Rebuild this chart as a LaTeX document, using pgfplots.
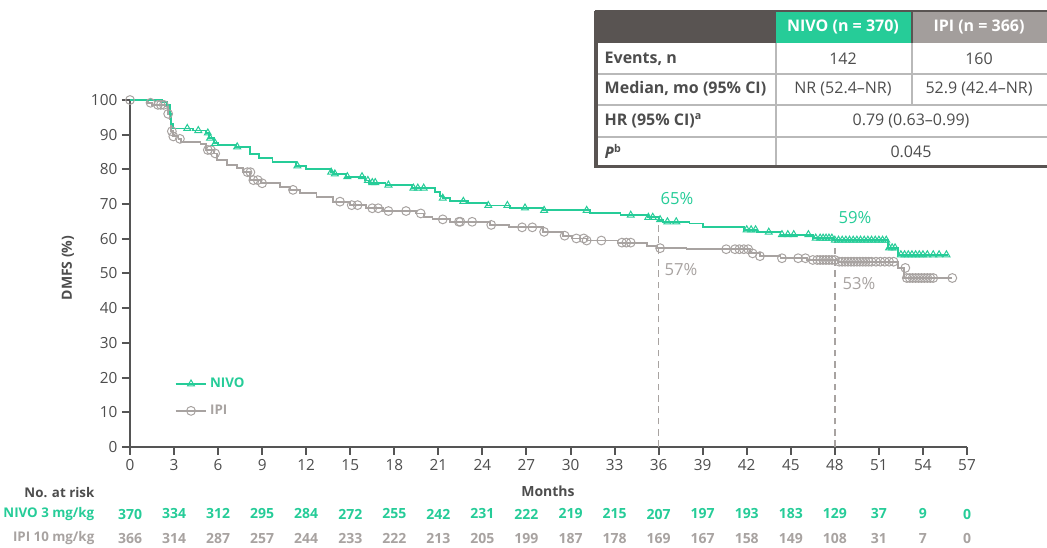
\documentclass[border=0pt]{standalone}
\usepackage{pgfplots}
\pgfplotsset{compat=1.18}
\usepackage{fontspec}
\setmainfont{Open Sans}
\definecolor{nivo}{RGB}{38,204,152}
\definecolor{ipi}{RGB}{168,163,161}
\definecolor{axc}{RGB}{85,85,85}
\definecolor{hdr}{RGB}{89,84,82}
\definecolor{ipihdr}{RGB}{163,158,156}
\definecolor{txt}{RGB}{77,77,77}
\definecolor{grid}{RGB}{185,185,185}
\begin{document}
\begin{tikzpicture}
\useasboundingbox (0,0) rectangle (785.25pt,-411pt);
\begin{axis}[
  at={(97.5pt,-335.25pt)}, anchor=south west,
  scale only axis, width=627.75pt, height=260.25pt,
  xmin=0, xmax=57, ymin=0, ymax=100,
  axis lines=left, axis line style={-, axc, line width=1.5pt},
  xtick={0,3,...,57}, ytick={0,10,...,100},
  tick align=outside, major tick length=6pt,
  tick style={axc, line width=1.5pt},
  tick label style={font=\fontsize{11.5}{13}\selectfont, text=txt},
  /pgf/number format/assume math mode=true,
  clip=false,
  legend style={at={(0.053,0.207)}, anchor=north west, draw=none, fill=none,
    font=\bfseries\fontsize{10}{12}\selectfont, row sep=7.5pt, inner sep=0pt},
  legend cell align=left,
  legend image code/.code={\draw[mark repeat=2,mark phase=2,#1] plot coordinates {(0pt,0pt) (11.6pt,0pt) (23.2pt,0pt)};},
]
% dashed reference lines
\addplot[ipi, line width=1.2pt, dash pattern=on 5pt off 3.5pt, forget plot] coordinates {(36,0) (36,65.2)};
\addplot[ipi, line width=1.2pt, dash pattern=on 5pt off 3.5pt, forget plot] coordinates {(48,0) (48,60.0)};
% IPI curve
\addplot[const plot, ipi, line width=1.4pt, forget plot] coordinates {
(0,100)(1.2,99.2)(1.5,98.6)(2.4,98.2)(2.6,96)(2.7,94.5)(2.8,91)(2.95,89.5)(3.3,88.8)(3.5,88)(4.8,87.4)(5.2,85.6)(5.7,84.6)(5.9,82.8)(6.6,81.3)(7.3,80.3)(7.7,79.2)(8.2,76.9)(8.9,76.0)(10.2,75.0)(10.9,74.1)(11.6,73.1)(12.7,72.1)(13.8,70.7)(15.0,69.7)(16.1,68.8)(17.2,68.0)(19.5,67.3)(20.0,66.4)(20.6,65.6)(21.8,64.9)(24.5,64.0)(25.8,63.3)(28.1,62.0)(29.5,60.9)(30.1,60.1)(31.1,59.5)(33.2,58.9)(35.2,57.9)(35.9,57.3)(37.9,57.0)(42.2,55.8)(42.9,55.0)(44.3,54.4)(46.1,53.9)(48.2,53.4)(52.3,51.6)(52.7,48.7)(56.0,48.7)};
\addplot[only marks, mark=o, mark size=3.3pt, ipi, mark options={line width=0.75pt}, forget plot] coordinates {
(0,100)(1.4,99.2)(1.9,98.6)(2.1,98.6)(2.3,98.6)(2.6,96)(2.85,91)(2.95,89.5)(3.4,88.8)(5.3,85.6)(5.5,85.6)(5.8,84.6)(8.0,79.2)(8.2,79.2)(8.4,76.9)(8.7,76.9)(9.0,76.0)(11.1,74.1)(14.3,70.7)(15.1,69.7)(15.5,69.7)(16.5,68.8)(16.9,68.8)(17.6,68.0)(18.8,68.0)(19.8,67.3)(21.3,65.6)(22.4,64.9)(22.5,64.9)(23.3,64.9)(24.6,64.0)(26.7,63.3)(27.4,63.3)(28.2,62.0)(29.6,60.9)(30.4,60.1)(30.9,60.1)(31.1,59.5)(32.1,59.5)(33.5,58.9)(33.8,58.9)(34.1,58.9)(36.1,57.3)(40.6,57.0)(41.2,57.0)(41.5,57.0)(41.8,57.0)(42.1,57.0)(42.4,55.8)(42.9,55.0)(44.4,54.4)(45.5,54.4)(46.0,54.4)
(46.5,53.9)(46.8,53.9)(47.0,53.9)(47.2,53.9)(47.4,53.9)(47.6,53.9)(47.8,53.9)(48.0,53.9)(48.3,53.4)(48.5,53.4)(48.7,53.4)(48.9,53.4)(49.1,53.4)(49.3,53.4)(49.5,53.4)(49.7,53.4)(49.9,53.4)(50.1,53.4)(50.3,53.4)(50.5,53.4)(50.8,53.4)(51.1,53.4)(51.4,53.4)(51.7,53.4)(52.0,53.4)(52.8,51.6)
(52.9,48.7)(53.1,48.7)(53.3,48.7)(53.5,48.7)(53.7,48.7)(53.9,48.7)(54.1,48.7)(54.3,48.7)(54.5,48.7)(54.7,48.7)(56.0,48.7)};
% NIVO curve
\addplot[const plot, nivo, line width=1.4pt, forget plot] coordinates {
(0,100)(2.2,99.5)(2.5,98.5)(2.7,96)(2.8,93)(2.9,91.8)(4.3,91.2)(5.2,90.5)(5.4,89)(5.7,87.5)(6.0,87.0)(7.2,86.5)(8.2,84.4)(8.8,83.3)(9.7,82.2)(11.3,81.0)(12.0,80.2)(13.7,79.2)(13.9,78.7)(14.7,77.9)(16.0,76.8)(16.3,76.2)(17.4,75.5)(19.2,74.6)(20.8,73.5)(21.1,72.3)(21.3,71.7)(21.8,70.8)(23.0,70.2)(24.3,69.6)(25.9,68.9)(28.1,68.2)(31.3,67.4)(33.4,66.8)(35.3,66.2)(36.0,65.5)(36.3,64.9)(38.1,64.4)(39.0,63.3)(41.8,62.6)(42.7,61.9)(44.3,61.2)(46.5,60.2)(47.9,59.6)(51.6,57.4)(52.3,55.4)(55.7,55.4)};
\addplot[only marks, mark=triangle, mark size=3pt, nivo, mark options={line width=0.75pt}, forget plot] coordinates {
(3.9,91.8)(4.65,91.2)(5.3,90.5)(5.45,89)(5.8,87.5)(7.3,86.5)(11.4,81)(13.7,79.2)(13.95,78.7)(14.8,77.9)(15.8,77.9)(16.2,76.8)(16.5,76.2)(16.7,76.2)(17.6,75.5)(19.3,74.6)(19.6,74.6)(20.0,74.6)(21.3,71.7)(22.7,70.8)(24.4,69.6)(25.7,69.6)(26.9,68.9)(28.2,68.2)(31.1,68.2)(34.1,66.8)(35.3,66.2)(35.6,66.2)(36.1,65.5)(36.6,64.9)(37.2,64.9)(42.0,62.6)(42.3,62.6)(42.6,62.6)(43.5,61.9)(44.4,61.2)(44.8,61.2)(45.2,61.2)(46.2,61.2)(46.7,60.2)(47.0,60.2)(47.2,60.2)(47.4,60.2)(47.6,60.2)(47.8,60.2)
(48.0,59.6)(48.25,59.6)(48.5,59.6)(48.75,59.6)(49.0,59.6)(49.25,59.6)(49.5,59.6)(49.75,59.6)(50.0,59.6)(50.25,59.6)(50.5,59.6)(50.75,59.6)(51.0,59.6)(51.25,59.6)(51.5,59.6)(51.7,57.4)(51.9,57.4)(52.1,57.4)
(52.5,55.4)(52.75,55.4)(53.0,55.4)(53.25,55.4)(53.5,55.4)(53.75,55.4)(54.0,55.4)(54.3,55.4)(54.7,55.4)(55.1,55.4)(55.6,55.4)};
% legend
\addlegendimage{nivo, line width=1.4pt, mark=triangle, mark size=3pt, mark options={line width=0.75pt}}
\addlegendentry{\textcolor{nivo}{NIVO}}
\addlegendimage{ipi, line width=1.4pt, mark=o, mark size=3.3pt, mark options={line width=0.75pt}}
\addlegendentry{\textcolor{ipi}{IPI}}
\end{axis}
\begin{scope}[x=0.75pt,y=-0.75pt]
% axis labels
\node[font=\bfseries\fontsize{10.5}{12}\selectfont, text=txt] at (548,491) {Months};
\node[font=\bfseries\fontsize{10.5}{12}\selectfont, text=txt, rotate=90] at (68,268) {DMFS (\%)};
% percent labels
\node[font=\fontsize{12.5}{14}\selectfont, text=nivo] at (677,199) {65\%};
\node[font=\fontsize{12.5}{14}\selectfont, text=nivo] at (855,218) {59\%};
\node[font=\fontsize{12.5}{14}\selectfont, text=ipi] at (681,270) {57\%};
\node[font=\fontsize{12.5}{14}\selectfont, text=ipi] at (859,284) {53\%};
% at risk table
\node[font=\bfseries\fontsize{10}{12}\selectfont, text=txt, anchor=east] at (99,493) {No. at risk};
\node[font=\bfseries\fontsize{10}{12}\selectfont, text=nivo, anchor=east] at (99,514) {NIVO 3 mg/kg};
\node[font=\bfseries\fontsize{10}{12}\selectfont, text=ipi, anchor=east] at (99,538.5) {IPI 10 mg/kg};
\foreach \v [count=\i from 0] in {370,334,312,295,284,272,255,242,231,222,219,215,207,197,193,183,129,37,9,0}
  \node[font=\bfseries\fontsize{10.5}{12}\selectfont, text=nivo] at ({130+44.053*\i},514) {\v};
\foreach \v [count=\i from 0] in {366,314,287,257,244,233,222,213,205,199,187,178,169,167,158,149,108,31,7,0}
  \node[font=\bfseries\fontsize{10.5}{12}\selectfont, text=ipi] at ({130+44.053*\i},538.5) {\v};
% summary table
\fill[white] (596,43) rectangle (1046,166);
\fill[hdr] (595,10) rectangle (1047,43);
\fill[nivo] (776,12) rectangle (911,43);
\fill[ipihdr] (913,12) rectangle (1047,43);
\draw[grid, line width=0.8pt] (596,74) -- (1047,74) (596,105) -- (1047,105) (596,137) -- (1047,137);
\draw[grid, line width=0.8pt] (776,43) -- (776,166) (912,43) -- (912,105);
\draw[hdr, line width=2.4pt] (596,11) -- (596,166.5) -- (1047,166.5);
\node[font=\bfseries\fontsize{12}{14}\selectfont, text=white] at (843,27) {NIVO (n = 370)};
\node[font=\bfseries\fontsize{12}{14}\selectfont, text=white] at (979,27) {IPI (n = 366)};
\begin{scope}[every node/.style={font=\fontsize{12}{14}\selectfont, text=txt}]
\node[anchor=west, font=\bfseries\fontsize{12}{14}\selectfont] at (600,58.5) {Events, n};
\node[anchor=west, font=\bfseries\fontsize{12}{14}\selectfont] at (600,89) {Median, mo (95\% CI)};
\node[anchor=west, font=\bfseries\fontsize{12}{14}\selectfont] at (600,120.5) {HR (95\% CI)\textsuperscript{a}};
\node[anchor=west, font=\bfseries\fontsize{12}{14}\selectfont] at (600,151.5) {\textit{P}\textsuperscript{b}};
\node at (843,58.5) {142};
\node at (979,58.5) {160};
\node at (843,89) {NR (52.4–NR)};
\node at (979,89) {52.9 (42.4–NR)};
\node at (911,120.5) {0.79 (0.63–0.99)};
\node at (911,151.5) {0.045};
\end{scope}
\end{scope}
\end{tikzpicture}
\end{document}
